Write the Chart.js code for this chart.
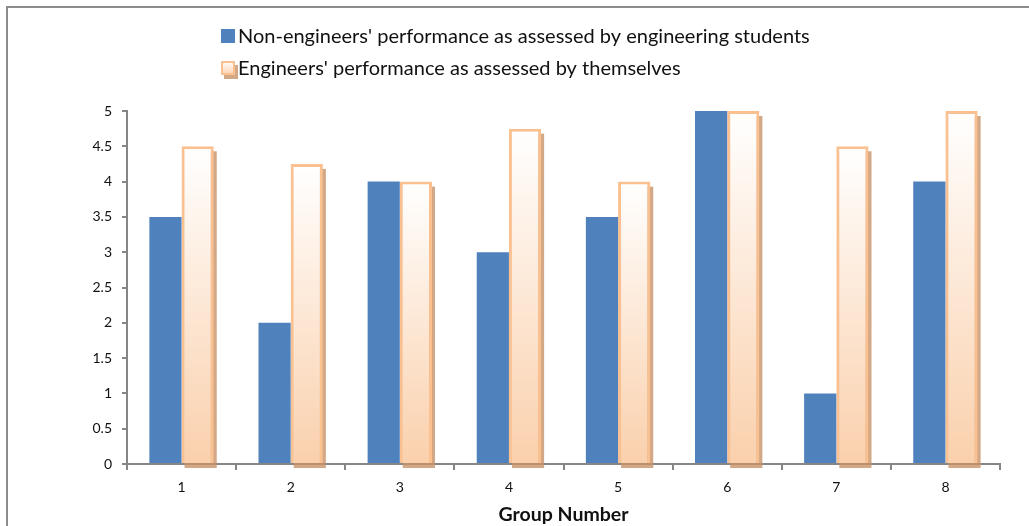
<!DOCTYPE html>
<html>
<head>
<meta charset="utf-8">
<script src="https://cdn.jsdelivr.net/npm/chart.js@4/dist/chart.umd.min.js"></script>
<style>
  html, body { margin: 0; padding: 0; background: #fff; overflow: hidden; }
  #wrap { position: relative; width: 1029px; height: 526px; }
</style>
</head>
<body>
<div id="wrap"><canvas id="c" width="1029" height="526"></canvas></div>
<script>
// Group numbers and the two ratings for each group
const groups = ['1', '2', '3', '4', '5', '6', '7', '8'];
const nonEngByStudents = [3.5, 2, 4, 3, 3.5, 5, 1, 4];
const engBySelf = [4.5, 4.25, 4, 4.75, 4, 5, 4.5, 5];
const seriesLabels = [
  "Non-engineers' performance as assessed by engineering students",
  "Engineers' performance as assessed by themselves"
];
const xAxisTitle = 'Group Number';
const yMin = 0, yMax = 5, yStep = 0.5;

const BLUE = '#4F81BD';
const PEACH_EDGE = '#FAC090';
const PEACH_TOP = '#FFFFFF';
const PEACH_BOTTOM = '#FAD0AC';
const SHADOW = 'rgba(200,146,104,0.8)';
const AXIS = '#868686';
const FONT = 'Lato, "Open Sans", sans-serif';

// vertical white-to-peach fill running from a bar's top down to its base
function peachFill(ctx) {
  const chart = ctx.chart;
  if (!chart.chartArea || ctx.type !== 'data') return PEACH_BOTTOM;
  const y = chart.scales.y;
  const top = y.getPixelForValue(ctx.raw);
  const base = y.getPixelForValue(0);
  const g = chart.ctx.createLinearGradient(0, top, 0, base);
  g.addColorStop(0, PEACH_TOP);
  g.addColorStop(1, PEACH_BOTTOM);
  return g;
}

// outer frame (left and top edges)
const framePlugin = {
  id: 'frame',
  beforeDraw(chart) {
    const c = chart.ctx;
    c.save();
    c.strokeStyle = '#8C8C8C';
    c.lineWidth = 2;
    c.beginPath();
    c.moveTo(7, chart.height + 2);
    c.lineTo(7, 7);
    c.lineTo(chart.width + 2, 7);
    c.stroke();
    c.restore();
  }
};

// drop shadow behind the self-assessment bars
const shadowPlugin = {
  id: 'barShadow',
  beforeDatasetDraw(chart, args) {
    if (args.index !== 1) return;
    const c = chart.ctx;
    c.save();
    c.fillStyle = SHADOW;
    args.meta.data.forEach(bar => {
      const p = bar.getProps(['x', 'y', 'base', 'width'], true);
      c.fillRect(p.x - p.width / 2 + 3, p.y + 5, p.width, p.base - p.y);
    });
    c.restore();
  }
};

// stacked legend, one entry per line
const legendPlugin = {
  id: 'stackLegend',
  afterDraw(chart) {
    const c = chart.ctx;
    const x0 = 221, box = 14;
    const rows = [43, 75];
    c.save();
    c.textBaseline = 'alphabetic';
    // first entry: solid blue square
    c.fillStyle = BLUE;
    c.fillRect(x0, rows[0] - box, box, box);
    // second entry: shadowed peach square
    c.fillStyle = SHADOW;
    c.fillRect(x0 + 3, rows[1] - box + 4, box, box);
    const g = c.createLinearGradient(0, rows[1] - box, 0, rows[1]);
    g.addColorStop(0, PEACH_TOP);
    g.addColorStop(1, PEACH_BOTTOM);
    c.fillStyle = g;
    c.fillRect(x0, rows[1] - box, box, box);
    c.strokeStyle = PEACH_EDGE;
    c.lineWidth = 2;
    c.strokeRect(x0 + 1, rows[1] - box + 1, box - 2, box - 2);
    c.fillStyle = '#111';
    c.font = '20px ' + FONT;
    chart.data.datasets.forEach((ds, i) => {
      c.fillText(ds.label, x0 + 17, rows[i]);
    });
    c.restore();
  }
};

new Chart(document.getElementById('c'), {
  type: 'bar',
  data: {
    labels: groups,
    datasets: [
      {
        label: seriesLabels[0],
        data: nonEngByStudents,
        backgroundColor: BLUE,
        borderWidth: 0,
        categoryPercentage: 0.59,
        barPercentage: 1
      },
      {
        label: seriesLabels[1],
        data: engBySelf,
        backgroundColor: peachFill,
        borderColor: PEACH_EDGE,
        borderWidth: 3,
        borderSkipped: 'bottom',
        categoryPercentage: 0.59,
        barPercentage: 1
      }
    ]
  },
  options: {
    responsive: false,
    animation: false,
    layout: { padding: { top: 111, left: 60, right: 29, bottom: 0 } },
    plugins: {
      legend: { display: false },
      tooltip: { enabled: false }
    },
    scales: {
      x: {
        z: 1,
        grid: { display: true, drawOnChartArea: false, drawTicks: true, tickLength: 6, color: AXIS, lineWidth: 2, offset: true },
        border: { color: AXIS, width: 2 },
        ticks: { color: '#111', font: { family: FONT, size: 14 }, padding: 9 },
        title: {
          display: true,
          text: xAxisTitle,
          color: '#111',
          font: { family: FONT, size: 19.5, weight: 'bold' },
          padding: { top: 2, bottom: 0 }
        },
        afterFit(scale) { scale.height = 62; }
      },
      y: {
        min: yMin,
        max: yMax,
        grid: { display: true, drawOnChartArea: false, drawTicks: true, tickLength: 5, color: AXIS, lineWidth: 2 },
        border: { color: AXIS, width: 2 },
        ticks: {
          stepSize: yStep,
          color: '#111',
          font: { family: FONT, size: 14 },
          padding: 10,
          callback: v => String(+v)
        },
        afterFit(scale) { scale.width = 67; }
      }
    }
  },
  plugins: [framePlugin, shadowPlugin, legendPlugin]
});
</script>
</body>
</html>
